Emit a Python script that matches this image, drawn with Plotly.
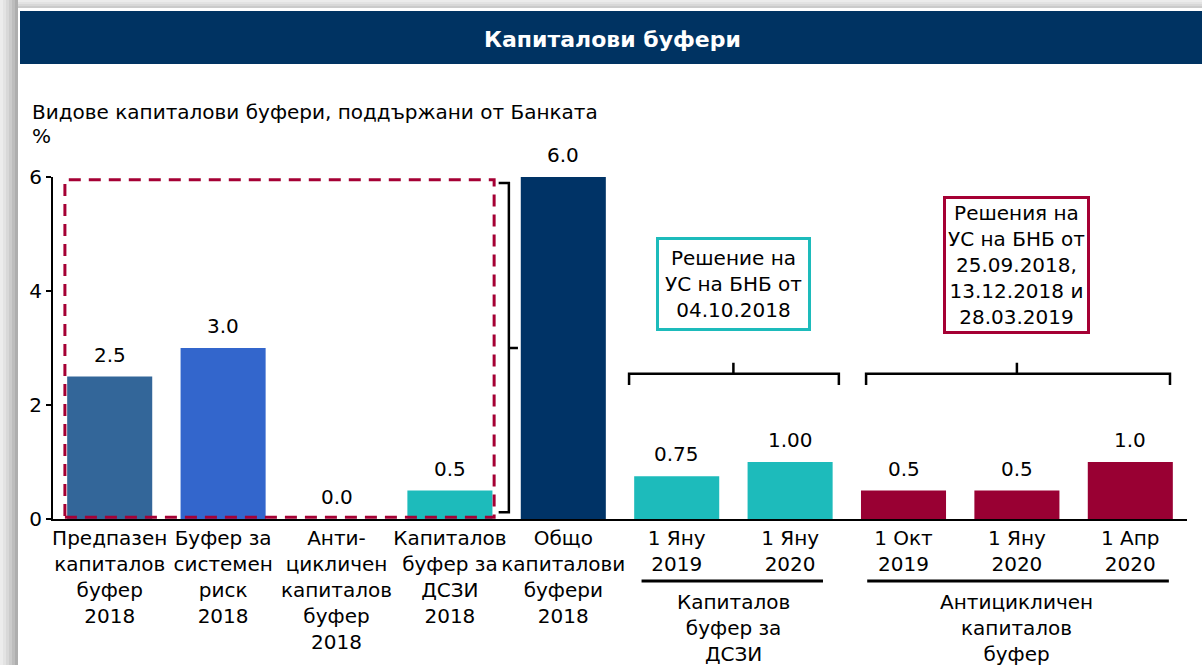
import plotly.graph_objects as go

# ---------------- data ----------------
tick_labels = [
    "Предпазен<br>капиталов<br>буфер<br>2018",
    "Буфер за<br>системен<br>риск<br>2018",
    "Анти-<br>цикличен<br>капиталов<br>буфер<br>2018",
    "Капиталов<br>буфер за<br>ДСЗИ<br>2018",
    "Общо<br>капиталови<br>буфери<br>2018",
    "1 Яну<br>2019",
    "1 Яну<br>2020",
    "1 Окт<br>2019",
    "1 Яну<br>2020",
    "1 Апр<br>2020",
]
values = [2.5, 3.0, 0.0, 0.5, 6.0, 0.75, 1.00, 0.5, 0.5, 1.0]
value_labels = ["2.5", "3.0", "0.0", "0.5", "6.0", "0.75", "1.00", "0.5", "0.5", "1.0"]
bar_colors = ["#336699", "#3366CC", "#3366CC", "#1DBBBB", "#003366",
              "#1DBBBB", "#1DBBBB", "#990033", "#990033", "#990033"]
y_ticks = [0, 2, 4, 6]

title_text = "Капиталови буфери"
subtitle_text = "Видове капиталови буфери, поддържани от Банката"
unit_text = "%"
box1_text = "Решение на<br>УС на БНБ от<br>04.10.2018"
box2_text = "Решения на<br>УС на БНБ от<br>25.09.2018,<br>13.12.2018 и<br>28.03.2019"
group1_text = "Капиталов<br>буфер за<br>ДСЗИ"
group2_text = "Антицикличен<br>капиталов<br>буфер"

# ---------------- layout geometry ----------------
W, H = 1202, 665
ML, MR, MT, MB = 53, 15, 177, 146
PW, PH = W - ML - MR, H - MT - MB

def px(x):
    return (x - ML) / PW

def py(y):
    return (H - MB - y) / PH

FONT = "DejaVu Sans"
FS = 20
CRIMSON = "#A50034"
TEAL = "#1DBBBB"

x_idx = list(range(len(values)))

fig = go.Figure()
fig.add_trace(go.Bar(
    x=x_idx, y=values, width=0.75,
    marker=dict(color=bar_colors, line=dict(width=0)),
    hoverinfo="skip", showlegend=False,
))

shapes = []
# gray frame (gradient approximation)
grays = ["#ececec", "#e3e3e3", "#d8d8d8", "#cbcbcb", "#bdbdbd", "#aeaeae"]
for i, g in enumerate(grays):
    shapes.append(dict(type="rect", xref="paper", yref="paper", layer="below",
                       x0=px(i * 3), x1=px(i * 3 + 3), y0=py(H), y1=py(0),
                       fillcolor=g, line=dict(width=0)))
for i, g in enumerate(grays[:4]):
    shapes.append(dict(type="rect", xref="paper", yref="paper", layer="below",
                       x0=px(18), x1=px(W), y0=py(i * 2), y1=py(i * 2 + 2),
                       fillcolor=g, line=dict(width=0)))
# title bar
shapes.append(dict(type="rect", xref="paper", yref="paper", layer="below",
                   x0=px(20), x1=px(W), y0=py(64), y1=py(11),
                   fillcolor="#003362", line=dict(width=0)))
# dashed box around components
shapes.append(dict(type="rect", xref="x", yref="y", layer="above",
                   x0=-0.395, x1=3.39, y0=0.03, y1=5.95,
                   line=dict(color=CRIMSON, width=3, dash="12px,8px")))
# right bracket beside dashed box
shapes.append(dict(type="path", xref="x", yref="y",
                   path="M 3.43 5.895 L 3.52 5.895 L 3.52 0.12 L 3.43 0.12 M 3.52 3.0 L 3.60 3.0",
                   line=dict(color="black", width=2.5)))
# top brackets
shapes.append(dict(type="path", xref="x", yref="y",
                   path="M 4.58 2.35 L 4.58 2.55 L 6.43 2.55 L 6.43 2.35 M 5.5 2.55 L 5.5 2.74",
                   line=dict(color="black", width=2.5)))
shapes.append(dict(type="path", xref="x", yref="y",
                   path="M 6.67 2.35 L 6.67 2.55 L 9.35 2.55 L 9.35 2.35 M 8.0 2.55 L 8.0 2.74",
                   line=dict(color="black", width=2.5)))
# group underlines
shapes.append(dict(type="line", xref="x", yref="paper",
                   x0=4.69, x1=6.29, y0=py(581), y1=py(581),
                   line=dict(color="black", width=3)))
shapes.append(dict(type="line", xref="x", yref="paper",
                   x0=6.68, x1=9.34, y0=py(581), y1=py(581),
                   line=dict(color="black", width=3)))

annotations = []
annotations.append(dict(text="<b>" + title_text + "</b>", xref="paper", yref="paper",
                        x=px(612), y=py(39), showarrow=False,
                        xanchor="center", yanchor="middle",
                        font=dict(family=FONT, size=22, color="white")))
annotations.append(dict(text=subtitle_text, xref="paper", yref="paper",
                        x=px(30), y=py(112), showarrow=False,
                        xanchor="left", yanchor="middle",
                        font=dict(family=FONT, size=FS, color="black")))
annotations.append(dict(text=unit_text, xref="paper", yref="paper",
                        x=px(30), y=py(136), showarrow=False,
                        xanchor="left", yanchor="middle",
                        font=dict(family=FONT, size=FS, color="black")))
for xi, v, lab in zip(x_idx, values, value_labels):
    annotations.append(dict(text=lab, x=xi, y=v, xref="x", yref="y",
                            showarrow=False, xanchor="center", yanchor="middle",
                            yshift=22, font=dict(family=FONT, size=FS, color="black")))
annotations.append(dict(text=box1_text, x=5.5, y=4.12, xref="x", yref="y",
                        showarrow=False, xanchor="center", yanchor="middle",
                        bordercolor=TEAL, borderwidth=3, borderpad=6, bgcolor="white",
                        font=dict(family=FONT, size=FS, color="black")))
annotations.append(dict(text=box2_text, x=8.0, y=4.46, xref="x", yref="y",
                        showarrow=False, xanchor="center", yanchor="middle",
                        bordercolor=CRIMSON, borderwidth=3, borderpad=2, bgcolor="white",
                        font=dict(family=FONT, size=FS, color="black")))
annotations.append(dict(text=group1_text, x=5.5, y=py(588), xref="x", yref="paper",
                        showarrow=False, xanchor="center", yanchor="top",
                        font=dict(family=FONT, size=FS, color="black")))
annotations.append(dict(text=group2_text, x=8.0, y=py(588), xref="x", yref="paper",
                        showarrow=False, xanchor="center", yanchor="top",
                        font=dict(family=FONT, size=FS, color="black")))

fig.update_layout(
    width=W, height=H,
    margin=dict(l=ML, r=MR, t=MT, b=MB, pad=0),
    paper_bgcolor="white", plot_bgcolor="white",
    showlegend=False,
    shapes=shapes, annotations=annotations,
    font=dict(family=FONT, size=FS, color="black"),
    xaxis=dict(range=[-0.5, 9.5], tickmode="array", tickvals=x_idx, ticktext=tick_labels,
               tickangle=0,
               showgrid=False, zeroline=False, showline=True, linecolor="black", linewidth=2,
               ticks="", tickfont=dict(family=FONT, size=FS, color="black"), fixedrange=True),
    yaxis=dict(range=[0, 6], tickmode="array", tickvals=y_ticks, ticktext=[str(t) for t in y_ticks],
               showgrid=False, zeroline=False, showline=True, linecolor="black", linewidth=2,
               ticks="outside", ticklen=5, tickwidth=1.5, tickcolor="black",
               tickfont=dict(family=FONT, size=FS, color="black"), fixedrange=True),
)

fig.write_html("out.html", config={"displayModeBar": False},
               post_script="document.body.style.margin='0';document.body.style.overflow='hidden';")
